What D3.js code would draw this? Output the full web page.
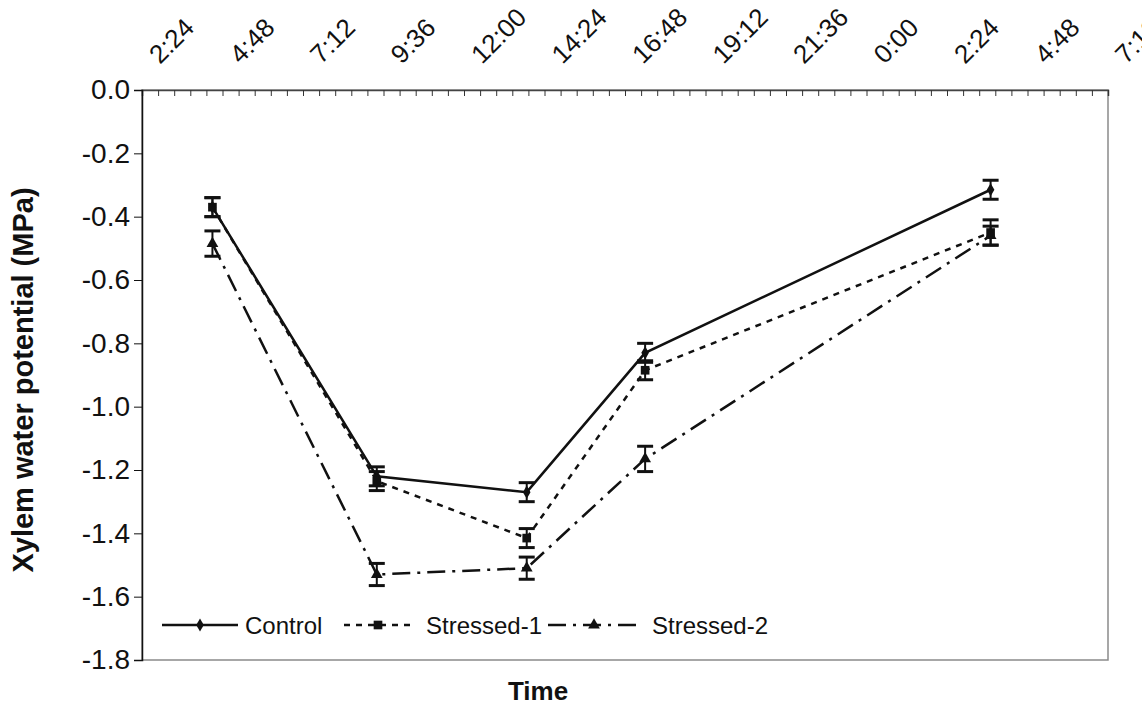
<html>
<meta charset="utf-8" />
<head>
<title>Xylem water potential</title>
<script src="https://cdn.jsdelivr.net/npm/d3@7/dist/d3.min.js"></script>
<style>
	body { margin:0; background:#fff; }
	text { font-family: Arial, "Liberation Sans", sans-serif; fill:#111; }
</style>
<script>
// 측정 시각 (경과 시간, 시간 단위. 24 이상은 다음날)
const hours = [4.5, 9.4, 13.87, 17.4, 27.7];

const controlValues = [-0.37, -1.22, -1.27, -0.83, -0.315];
const controlErrors = [0.03, 0.03, 0.03, 0.03, 0.03];

const stressed1Values = [-0.37, -1.235, -1.415, -0.885, -0.45];
const stressed1Errors = [0.03, 0.03, 0.03, 0.03, 0.04];

const stressed2Values = [-0.485, -1.53, -1.51, -1.165, -0.46];
const stressed2Errors = [0.04, 0.035, 0.035, 0.04, 0.03];

const seriesNames = ['Control', 'Stressed-1', 'Stressed-2'];

// 위쪽 축 눈금 라벨 (2:24 간격)
const topTickLabels = ['2:24', '4:48', '7:12', '9:36', '12:00', '14:24', '16:48',
	'19:12', '21:36', '0:00', '2:24', '4:48', '7:12'];
const yTickValues = [0, -0.2, -0.4, -0.6, -0.8, -1.0, -1.2, -1.4, -1.6, -1.8];

window.onload = function() {
	const svg = d3.select('svg');
	const left = 142, right = 1108, top = 90, bottom = 660;

	// 시간축: 2:24 ~ 다음날 7:12
	const xScale = d3.scaleLinear().domain([2.4, 31.2]).range([left, right]);
	const yScale = d3.scaleLinear().domain([0, -1.8]).range([top, bottom]);

	const series = [
		{ name: seriesNames[0], values: controlValues, errors: controlErrors,
		  dash: null, symbol: d3.symbolDiamond, size: 50 },
		{ name: seriesNames[1], values: stressed1Values, errors: stressed1Errors,
		  dash: '6,6', symbol: d3.symbolSquare, size: 75 },
		{ name: seriesNames[2], values: stressed2Values, errors: stressed2Errors,
		  dash: '18,7,3,7', symbol: d3.symbolTriangle, size: 60 }
	];

	// 그림 영역 테두리 (회색)
	svg.append('rect')
		.attr('x', left).attr('y', top)
		.attr('width', right - left).attr('height', bottom - top)
		.attr('fill', 'none').attr('stroke', '#8a8a8a').attr('stroke-width', 1.5);

	// 위쪽 축: 작은 눈금 (0.48시간 간격), 안쪽으로
	const minorTicks = d3.range(0, 61).map(i => 2.4 + i * 0.48);
	const topAxis = d3.axisTop(xScale).tickValues(minorTicks).tickSize(-6).tickFormat('');
	const gTop = svg.append('g').attr('transform', `translate(0,${top})`).call(topAxis);
	gTop.select('path.domain').attr('stroke', '#444').attr('stroke-width', 1.5);
	gTop.selectAll('.tick line').attr('stroke', '#333');

	// 위쪽 축 라벨 (45도 회전)
	const majorTicks = topTickLabels.map((t, i) => 2.4 + i * 2.4);
	svg.append('g').selectAll('text')
		.data(topTickLabels)
		.enter()
		.append('text')
		.attr('transform', (d, i) => `translate(${xScale(majorTicks[i]) + 18},${top - 25}) rotate(-45)`)
		.attr('font-size', 26)
		.text(d => d);

	// 왼쪽 y축
	const yAxis = d3.axisLeft(yScale).tickValues(yTickValues).tickSize(8).tickPadding(4)
		.tickFormat(d => d.toFixed(1));
	const gY = svg.append('g').attr('transform', `translate(${left},0)`).call(yAxis);
	gY.select('path.domain').attr('stroke', '#111').attr('stroke-width', 1.5);
	gY.selectAll('.tick line').attr('stroke', '#111');
	gY.selectAll('.tick text').attr('font-size', 28).attr('fill', '#111')
		.attr('font-family', 'Arial, "Liberation Sans", sans-serif');

	// 선
	const line = d3.line()
		.x((d, i) => xScale(hours[i]))
		.y(d => yScale(d));

	series.forEach(s => {
		svg.append('path')
			.datum(s.values)
			.attr('d', line)
			.attr('fill', 'none')
			.attr('stroke', '#111')
			.attr('stroke-width', 2.5)
			.attr('stroke-dasharray', s.dash);
	});

	// 오차 막대와 마커
	series.forEach(s => {
		const g = svg.append('g');
		s.values.forEach((v, i) => {
			const cx = xScale(hours[i]);
			const y1 = yScale(v + s.errors[i]);
			const y2 = yScale(v - s.errors[i]);
			g.append('line').attr('x1', cx).attr('x2', cx).attr('y1', y1).attr('y2', y2)
				.attr('stroke', '#111').attr('stroke-width', 2);
			[y1, y2].forEach(yy => {
				g.append('line').attr('x1', cx - 8).attr('x2', cx + 8).attr('y1', yy).attr('y2', yy)
					.attr('stroke', '#111').attr('stroke-width', 3);
			});
		});
		g.selectAll('path')
			.data(s.values)
			.enter()
			.append('path')
			.attr('d', d3.symbol().type(s.symbol).size(s.size))
			.attr('transform', (d, i) => `translate(${xScale(hours[i])},${yScale(d)})`)
			.attr('fill', '#111');
	});

	// 범례
	const legendY = 625;
	const legendItems = [
		{ x1: 162, x2: 238, tx: 245 },
		{ x1: 344, x2: 412, tx: 426 },
		{ x1: 548, x2: 640, tx: 652 }
	];
	const legend = svg.append('g');
	series.forEach((s, i) => {
		const it = legendItems[i];
		legend.append('line')
			.attr('x1', it.x1).attr('x2', it.x2).attr('y1', legendY).attr('y2', legendY)
			.attr('stroke', '#111').attr('stroke-width', 2.5)
			.attr('stroke-dasharray', s.dash);
		legend.append('path')
			.attr('d', d3.symbol().type(s.symbol).size(s.size))
			.attr('transform', `translate(${(it.x1 + it.x2) / 2},${legendY})`)
			.attr('fill', '#111');
		legend.append('text')
			.attr('x', it.tx).attr('y', legendY + 9)
			.attr('font-size', 24)
			.text(s.name);
	});

	// 축 제목
	svg.append('text')
		.attr('transform', `translate(33,380) rotate(-90)`)
		.attr('text-anchor', 'middle')
		.attr('font-size', 29).attr('font-weight', 'bold')
		.text('Xylem water potential (MPa)');
	svg.append('text')
		.attr('x', 538).attr('y', 700)
		.attr('text-anchor', 'middle')
		.attr('font-size', 26).attr('font-weight', 'bold')
		.text('Time');
}
</script>
</head>
<body>
<svg width="1142" height="708"></svg>
</body>
</html>
